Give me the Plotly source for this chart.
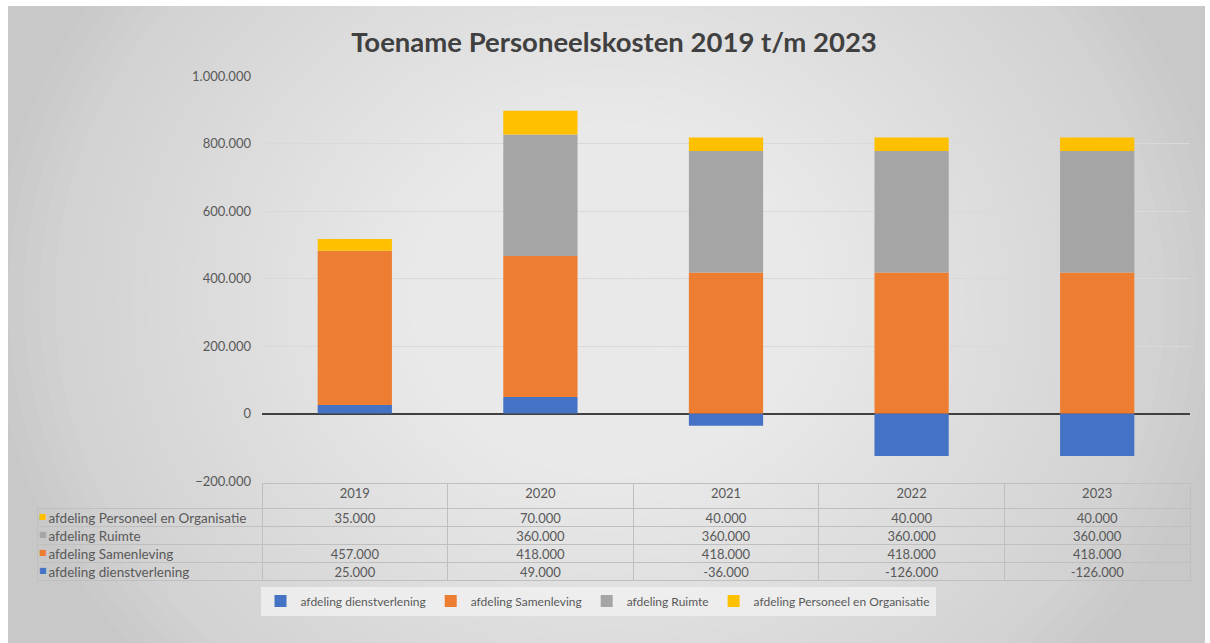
import plotly.graph_objects as go

# ---- data ----
years = ["2019", "2020", "2021", "2022", "2023"]
dienstverlening = [25000, 49000, -36000, -126000, -126000]
samenleving = [457000, 418000, 418000, 418000, 418000]
ruimte = [None, 360000, 360000, 360000, 360000]
personeel = [35000, 70000, 40000, 40000, 40000]

series_names = ["afdeling dienstverlening", "afdeling Samenleving",
                "afdeling Ruimte", "afdeling Personeel en Organisatie"]
series_values = [dienstverlening, samenleving, ruimte, personeel]
series_colors = ["#4472C4", "#ED7D31", "#A5A5A5", "#FFC000"]

title_text = "Toename Personeelskosten 2019 t/m 2023"

W, H = 1210, 643
FONT = "Lato"
NBSP = "\u00a0"
CLEAR = "rgba(0,0,0,0)"

def px_x(p):
    return p / W

def px_y(p):
    return 1 - p / H

def fmt(v):
    if v is None:
        return ""
    return f"{v:,}".replace(",", ".")

fig = go.Figure()

for name, vals, col in zip(series_names, series_values, series_colors):
    fig.add_trace(go.Bar(
        x=years, y=vals, name=name, marker=dict(color=col, line=dict(width=0)),
        xaxis="x", yaxis="y",
    ))

# ---- data table ----
row_order = [3, 2, 1, 0]
labels = [NBSP + series_names[i] for i in row_order]
columns = [labels]
for j in range(len(years)):
    columns.append([fmt(series_values[i][j]) for i in row_order])

grid_col = "#bfbfbf"
TOP, BOTTOM, SHIFT = 483, 585, 3
HEADER_H, CELL_H = 25, 18
col_widths = [225] + [185.6] * len(years)
ncols = len(years) + 1

# grid lines of the table
fig.add_trace(go.Table(
    domain=dict(x=[px_x(37), px_x(1190)], y=[px_y(BOTTOM), px_y(TOP)]),
    columnwidth=col_widths,
    header=dict(values=[""] * ncols, fill=dict(color=CLEAR),
                line=dict(color=[CLEAR] + [grid_col] * len(years), width=1),
                height=HEADER_H),
    cells=dict(values=[[""] * len(row_order)] * ncols, fill=dict(color=CLEAR),
               line=dict(color=grid_col, width=1), height=CELL_H),
))
# table texts
fig.add_trace(go.Table(
    domain=dict(x=[px_x(37), px_x(1190)], y=[px_y(BOTTOM - SHIFT), px_y(TOP - SHIFT)]),
    columnwidth=col_widths,
    header=dict(
        values=[""] + years,
        fill=dict(color=CLEAR), line=dict(color=CLEAR, width=0),
        align="center",
        font=dict(family=FONT, size=13, color="#595959"),
        height=HEADER_H,
    ),
    cells=dict(
        values=columns,
        fill=dict(color=CLEAR), line=dict(color=CLEAR, width=0),
        align=["left"] + ["center"] * len(years),
        font=dict(family=FONT, size=[13.5] + [13] * len(years), color="#595959"),
        height=CELL_H,
    ),
))
# legend keys inside the table's label column
fig.add_trace(go.Table(
    domain=dict(x=[px_x(31), px_x(47)], y=[px_y(BOTTOM - SHIFT), px_y(TOP - SHIFT)]),
    columnwidth=[1],
    header=dict(values=[""], fill=dict(color=CLEAR), line=dict(color=CLEAR, width=0),
                font=dict(family=FONT, size=13), height=HEADER_H),
    cells=dict(values=[["■"] * len(row_order)], fill=dict(color=CLEAR),
               line=dict(color=CLEAR, width=0), align="left",
               font=dict(family="DejaVu Sans", size=8,
                         color=[[series_colors[i] for i in row_order]]),
               height=CELL_H),
))

# ---- background (approximate radial gradient) ----
shapes = [dict(type="rect", xref="paper", yref="paper",
               x0=px_x(8), x1=px_x(1205), y0=0, y1=px_y(6),
               fillcolor="#c8c8c8", line=dict(width=0), layer="below")]
n = 40
cx, cy = px_x(610), px_y(300)
for k in range(n):
    f = 1 - k / n
    rx = 0.50 * f * 1.02
    ry = 0.85 * f
    shapes.append(dict(type="circle", xref="paper", yref="paper",
                       x0=cx - rx, x1=cx + rx, y0=cy - ry, y1=cy + ry,
                       fillcolor="rgba(255,255,255,0.042)", line=dict(width=0),
                       layer="below"))
# white outer border strips
for (x0, x1, y0, y1) in [(0, 1, px_y(6), 1), (0, px_x(8), 0, 1), (px_x(1205), 1, 0, 1)]:
    shapes.append(dict(type="rect", xref="paper", yref="paper",
                       x0=x0, x1=x1, y0=y0, y1=y1,
                       fillcolor="white", line=dict(width=0), layer="below"))

fig.update_layout(
    width=W, height=H,
    margin=dict(l=0, r=0, t=0, b=0, pad=0, autoexpand=False),
    paper_bgcolor="white",
    plot_bgcolor=CLEAR,
    separators=",.",
    barmode="relative",
    bargap=0.6,
    font=dict(family=FONT, color="#595959"),
    title=dict(text=title_text, x=px_x(614), y=px_y(42), xanchor="center", yanchor="middle",
               xref="paper", yref="paper", automargin=False,
               font=dict(family=FONT, size=27.5, color="#404040", weight="bold")),
    xaxis=dict(domain=[px_x(262), px_x(1190)], showticklabels=False, showgrid=False,
               ticks="", showline=False, zeroline=False, range=[-0.5, 4.5], automargin=False),
    yaxis=dict(domain=[px_y(481), px_y(76)], range=[-200000, 1000000], dtick=200000,
               tickformat=",d", showgrid=True, gridcolor="#d9d9d9", gridwidth=1,
               zeroline=True, zerolinecolor="#404040", zerolinewidth=2,
               ticks="", showline=False, ticklabelstandoff=10, automargin=False,
               tickfont=dict(family=FONT, size=13, color="#595959")),
    legend=dict(orientation="h", x=px_x(598), xanchor="center", y=px_y(601), yanchor="middle",
                bgcolor="rgba(240,240,240,0.85)", font=dict(family=FONT, size=12, color="#595959"),
                traceorder="normal", itemwidth=30),
    shapes=shapes,
    showlegend=True,
)

fig.write_html("out.html", config={"displayModeBar": False},
               post_script="document.body.style.margin='0';document.body.style.overflow='hidden';")
